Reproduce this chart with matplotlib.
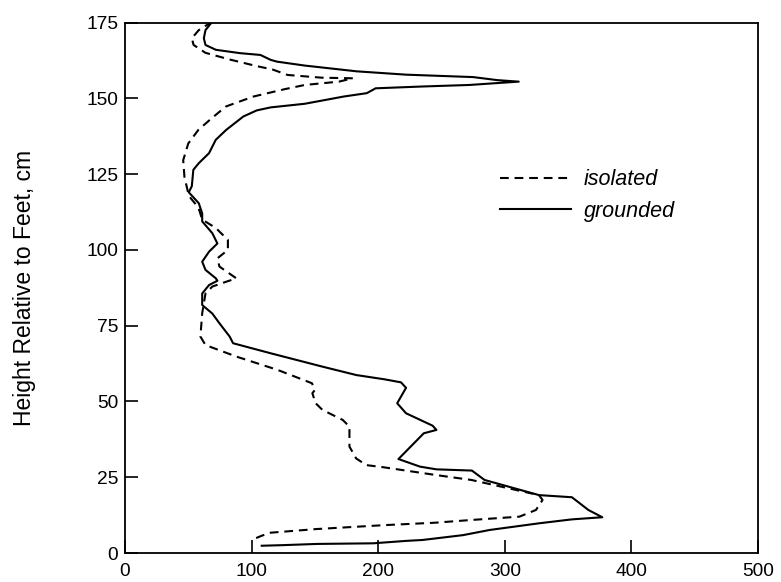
import matplotlib
matplotlib.use('Agg')
import matplotlib.pyplot as plt

plt.rcParams['font.family'] = ['Liberation Sans', 'DejaVu Sans']

# grounded curve, traced top to bottom (value, height in cm)
grounded_x = [69, 63.6, 62.3, 63.6, 71.8, 90.8, 107, 115, 120, 142, 183, 222,
              275, 294, 311, 293, 272, 235, 198, 191, 173, 142, 115, 104, 93.5,
              80, 71.7, 66.4, 58.3, 54, 52.8, 50.4, 58.3, 61, 61, 69, 73, 66.4,
              61, 63.6, 71.8, 73, 66.4, 61, 61, 69, 74.6, 82.7, 85.4, 115,
              155.8, 182.8, 205, 218, 222, 215, 222, 243, 246, 236, 216, 233,
              246, 274, 284, 327, 353, 366, 377, 353, 327, 288, 267, 235, 222,
              196, 152, 125, 108]
grounded_y = [175.3, 172.5, 169.8, 167.6, 166, 164.9, 164.3, 162.7, 162.1,
              160.8, 158.9, 157.8, 157, 156, 155.5, 155, 154.4, 153.9, 153.3,
              151.7, 150.6, 148.2, 147, 146, 144, 139.6, 136.3, 131.9, 128.6,
              126.4, 121, 119, 115.4, 112, 109.4, 105.5, 102.1, 99.4, 96.1,
              93.4, 90.6, 89.8, 88.4, 85.6, 81.8, 79, 75.8, 71.4, 69.2, 65.9,
              61.5, 58.7, 57.3, 56.3, 54.5, 49.4, 46.1, 42, 40.6, 39.5, 31,
              28.5, 27.6, 27.2, 24.1, 19.1, 18.4, 14.2, 11.8, 11.1, 9.8, 7.6,
              5.9, 4.3, 4.0, 3.2, 3.0, 2.6, 2.4]

# isolated curve
isolated_x = [69, 58.3, 52.8, 54.2, 63.6, 82.7, 104.3, 116.6, 128.5, 155.5,
              180, 169, 142, 126, 101.6, 79.7, 69, 58, 50, 46, 47, 50, 52, 58,
              61, 71.8, 81.3, 81.3, 73, 74.6, 88, 80, 69, 63.6, 61, 59.6, 63.6,
              88, 120.6, 147.7, 150, 148, 150.6, 156, 172, 177.3, 177.3, 182.6,
              190.6, 204, 246, 273.6, 327, 329.8, 324.6, 311.6, 273.6, 245,
              205, 151, 115, 108, 100]
isolated_y = [175.3, 172.5, 169.8, 167.6, 165, 162.8, 160.6, 159.5, 157.7,
              156.8, 156.6, 155.5, 154.4, 153, 150.6, 147.3, 143.6, 139.6,
              135.1, 129.6, 124, 118.7, 117, 114, 110, 107.2, 103.3, 100, 97.2,
              94.5, 90.6, 89.5, 87.9, 85.6, 79.1, 71.4, 68.6, 64.8, 60.4, 56,
              53.8, 52.7, 49.4, 47.2, 43.9, 41.7, 35.1, 31.2, 29, 28.3, 25.7,
              24.1, 19.1, 17.5, 14.2, 12.0, 10.9, 10, 9.2, 7.9, 6.7, 5.7, 4.3]

x_ticks = [0, 100, 200, 300, 400, 500]
y_ticks = [0, 25, 50, 75, 100, 125, 150, 175]

fig = plt.figure(figsize=(7.81, 5.82), dpi=100)
ax = fig.add_axes([0.160, 0.0498, 0.8106, 0.9115])

ax.plot(isolated_x, isolated_y, color='black', lw=1.5, dashes=(4.2, 2.8),
        label='isolated')
ax.plot(grounded_x, grounded_y, color='black', lw=1.5, label='grounded')

ax.set_xlim(0, 500)
ax.set_ylim(0, 175)
ax.set_xticks(x_ticks)
ax.set_yticks(y_ticks)
ax.tick_params(direction='in', length=9.5, width=1.2, labelsize=13.8,
               top=False, right=False)
ax.tick_params(axis='x', pad=7)
ax.tick_params(axis='y', pad=5)
for s in ax.spines.values():
    s.set_linewidth(1.3)

ax.set_ylabel('Height Relative to Feet, cm', fontsize=16.5)
ax.yaxis.set_label_coords(-0.14, 0.5)

leg = ax.legend(loc='upper left', bbox_to_anchor=(0.562, 0.76), frameon=False,
                handlelength=3.3, handletextpad=0.6, labelspacing=0.5,
                prop={'style': 'italic', 'size': 15.5})

fig.savefig('out.png', dpi=100)
